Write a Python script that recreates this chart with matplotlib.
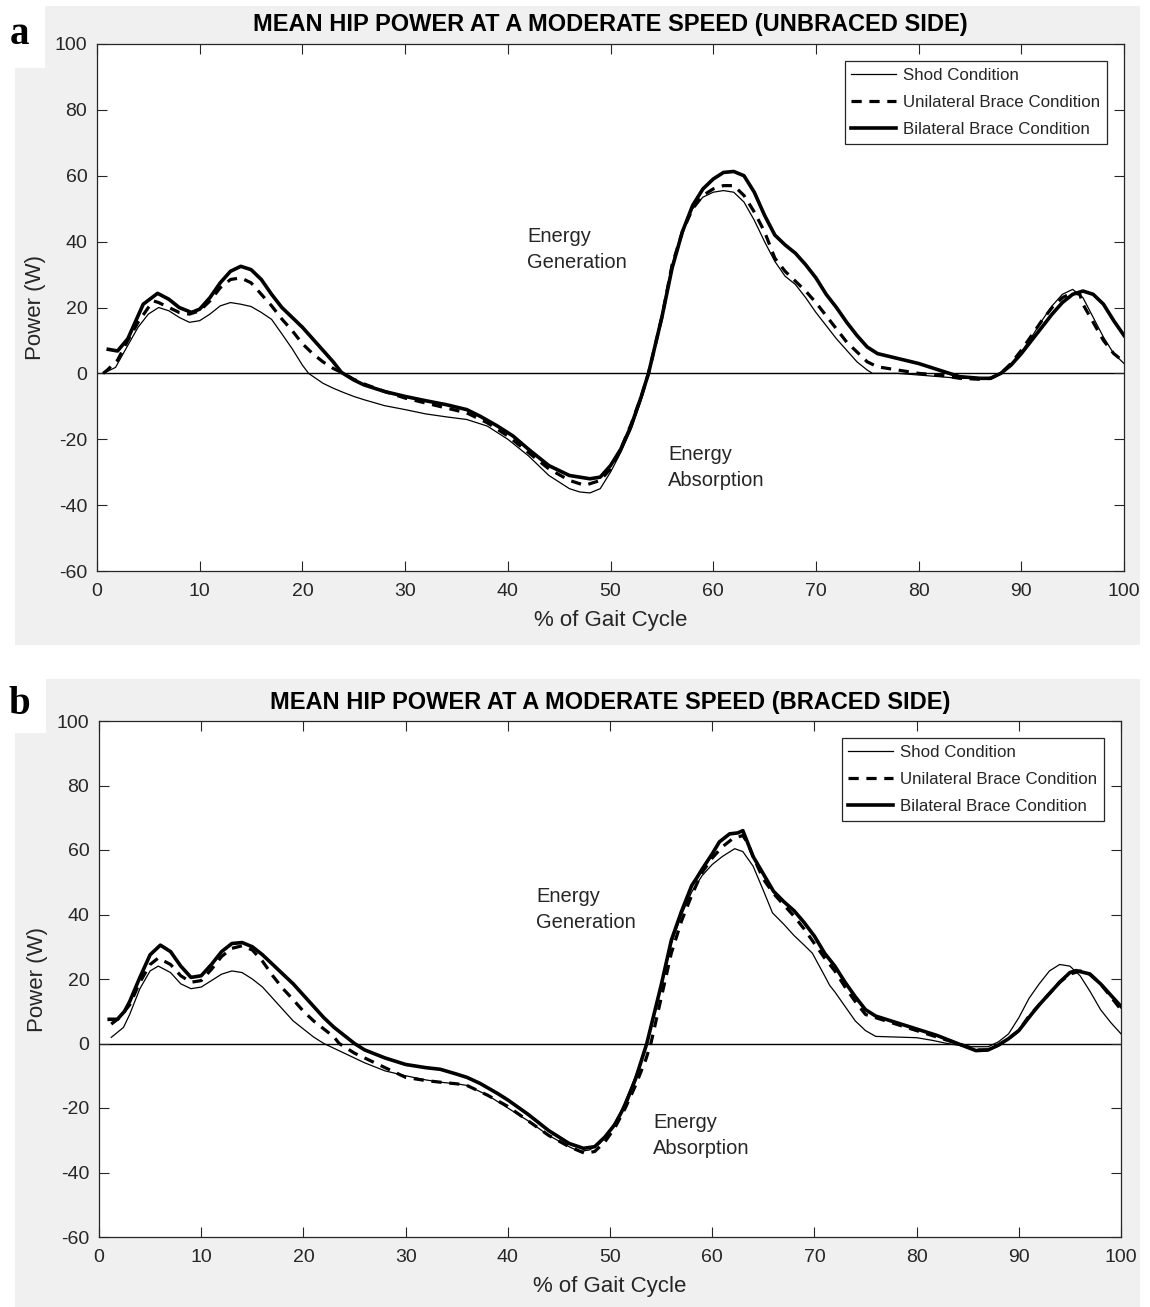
import matplotlib
matplotlib.use("Agg")
import matplotlib.pyplot as plt
from matplotlib.patches import Rectangle

plt.rcParams['font.family'] = ['Liberation Sans', 'DejaVu Sans']
plt.rcParams['axes.unicode_minus'] = False

# ---------------- Panel a: unbraced side ----------------
a_shod_x = [0.6, 1.8, 3, 4, 5, 6, 7, 8, 9, 10, 11, 12, 13, 14, 15, 16, 17, 18, 19, 20,
            20.6, 22, 23, 24, 25, 26, 28, 30, 32, 34, 36, 38, 40, 42, 44, 46, 47, 48, 49,
            50, 51, 52, 53, 53.7, 55, 56, 57, 58, 59, 60, 61, 62, 63, 64, 65, 66, 67, 68,
            69, 70, 71, 72, 73, 74, 75, 75.5, 78, 80, 82, 84, 86, 87, 88, 89, 90, 91, 92,
            93, 94, 95, 96, 97, 98, 99, 100]
a_shod_y = [0, 1.8, 8.5, 14, 18, 20, 19, 17, 15.5, 16, 18, 20.5, 21.5, 21, 20.3, 18.5, 16.4, 12, 7.5, 2.5,
            0, -3, -4.5, -5.8, -7, -8, -9.8, -11, -12.3, -13.2, -14, -16, -20, -25, -31, -35, -36, -36.3, -35,
            -30, -24, -17, -8, 0, 18, 33, 43, 50, 53.5, 55, 55.5, 55, 52, 46.5, 40, 34, 29.5, 27,
            23, 18.5, 14.5, 10.5, 7, 3.5, 1, 0, 0, -0.5, -1, -1.5, -1.5, -1.5, 0, 3, 6.5, 11, 16,
            20.5, 24, 25.5, 23, 17, 11, 6, 3]

a_uni_x = [0.6, 1, 2, 3, 4, 5, 5.5, 6, 7, 8, 9, 10, 11, 12, 13, 14, 15, 16, 17, 18, 19, 20,
           21, 22, 23, 24, 25, 26, 28, 30, 32, 34, 36, 38, 40, 42, 44, 46, 47.5, 49, 50, 51,
           52, 53, 53.7, 55, 56, 57, 58, 59, 60, 61, 62, 63, 64, 65, 66, 67, 68, 69, 70, 71,
           72, 73, 74, 75, 76, 78, 80, 82, 84, 86, 87, 88, 89, 90, 91, 92, 93, 94, 95, 95.7,
           96, 97, 98, 99, 100]
a_uni_y = [0, 1, 4, 10, 15.5, 20, 22, 21.5, 20, 18.5, 18, 19, 22, 26, 28.5, 29, 27.5, 24, 20.5, 16.5, 13, 9,
           6, 3.5, 1.5, 0, -1.8, -3.2, -5.5, -7.5, -9, -10.5, -12, -15, -19, -24, -29, -32.5, -34, -32.5, -29, -23,
           -15.5, -7, 0, 17, 33, 43, 50, 54, 56, 57, 57, 54, 49, 43, 35, 31, 28, 25, 21.5, 17.5,
           13.5, 9.5, 6.5, 3.5, 2, 1, 0, -0.5, -1.5, -1.8, -1.5, 0, 3, 7, 11.5, 16, 20, 23, 24.5, 24,
           21, 15.5, 10, 6, 3.5]

a_bi_x = [1.1, 2, 3, 3.5, 4.5, 5.9, 7, 8, 9.2, 10, 11, 12, 13, 14, 15, 16, 17, 18, 19, 20, 21,
          22, 23, 23.8, 25, 26, 28, 30, 32, 34, 36, 37.3, 39, 40.5, 42, 44, 46, 48, 49, 50, 51,
          52, 53, 53.7, 55, 56, 57, 58, 59, 60, 61, 62, 63, 64, 65, 66, 67, 68, 69, 70, 71, 72,
          73, 74, 75, 76, 78, 80, 82, 84, 86, 87, 88, 89, 90, 91, 92, 93, 94, 95, 96, 97, 98,
          99, 100]
a_bi_y = [7.3, 6.8, 10.5, 14, 21, 24.3, 22.5, 20, 18.5, 19.5, 23, 27.5, 31, 32.5, 31.5, 28.5, 24, 20, 17, 14, 10.5,
          7, 3.5, 0.3, -2, -3.5, -5.5, -7, -8.3, -9.5, -11, -13, -16, -19, -23, -28, -31, -32, -31.5, -28, -23,
          -16, -7, 0, 17, 32, 43, 51, 56, 59, 61, 61.3, 60, 55, 48, 42, 39, 36.5, 33, 29, 24, 20,
          15.5, 11.5, 8, 6, 4.5, 3, 1, -1, -1.5, -1.5, 0, 2.5, 6, 10, 14, 18, 21.5, 24, 25, 24, 21,
          16, 11.5]

# ---------------- Panel b: braced side ----------------
b_shod_x = [1.2, 2.4, 3, 4, 5, 5.8, 7, 8, 9, 10, 11, 12, 13, 14, 15, 16, 17, 18, 19, 20, 21,
            22, 23, 24, 25, 26, 28, 30, 32, 33.4, 35, 36, 38, 40, 42, 44, 46, 47, 48, 49, 50,
            51, 52, 53, 53.6, 55, 56, 57, 58, 59, 60, 61, 62.2, 63, 64, 65, 65.9, 67, 68, 69,
            69.8, 71, 71.5, 72, 73, 74, 75, 76, 78, 80, 81.5, 83, 85, 87, 88, 89, 90, 91, 92,
            93, 94, 95, 96, 97, 98, 99, 100]
b_shod_y = [1.9, 5, 9, 17, 22.5, 24, 22, 18.5, 17, 17.5, 19.5, 21.5, 22.5, 22, 20, 17.5, 14, 10.5, 7, 4.5, 2,
            0, -1.5, -3, -4.5, -6, -8.5, -10, -11.3, -12, -12.5, -13, -16, -20, -24, -28.5, -32, -33.5, -33, -31, -27,
            -21.5, -14, -6, 0, 18, 31, 40, 47, 52, 55.5, 58, 60.4, 59.5, 55, 47.5, 40.5, 37, 33.5, 30.5,
            28, 21, 18, 16, 11.5, 7, 4, 2.2, 2, 1.8, 1, 0, -1, -1, 0.5, 3, 8, 14, 18.5,
            22.5, 24.5, 24, 21, 16, 10.5, 6.5, 3]

b_uni_x = [1.2, 2, 3, 4, 5, 5.8, 7, 8, 9, 10, 11, 12, 13, 14, 15, 16, 17, 18, 18.8, 20, 21,
           22, 23, 23.5, 24, 25, 26, 28, 30, 32, 33.4, 35, 36, 38, 40, 42, 44, 46, 47.5, 48.5,
           49.5, 50.5, 51.5, 52.5, 53.5, 54, 55, 56, 57, 58, 59, 60, 61, 62, 63, 63.5, 64, 65,
           66, 67, 68, 69, 70, 71, 72, 73, 74, 75, 76, 78, 80, 82, 84, 86, 87, 88, 89, 90, 91,
           92, 93, 94, 95, 96, 97, 98, 99, 100]
b_uni_y = [6, 8, 12, 19, 24.5, 26.5, 24.5, 21, 19, 19.5, 23, 27, 29.5, 30.3, 29, 25.5, 21, 17, 14.3, 10, 7,
           4.5, 2, 0, -1, -3, -4.5, -7.5, -10.5, -11.5, -12, -12.5, -13, -16, -19.5, -24, -28.5, -32, -34, -33.5,
           -30.5, -26, -20, -13, -5, 0, 14, 28, 38, 46, 53, 57.5, 61, 63.5, 64.5, 62, 58, 51,
           46.5, 43, 39.5, 35.5, 31, 26.5, 22.5, 17.5, 13, 9, 8, 6, 4, 2, 0, -2, -2, -0.5, 1.5, 4, 8.5,
           12, 15.5, 19, 21.5, 22.5, 21.5, 18.5, 14.5, 10.5]

b_bi_x = [1.0, 1.8, 2.5, 3, 4, 5, 6, 7, 8, 9, 10, 11, 12, 13, 14, 15, 16, 17, 18, 19, 20,
          21, 22, 23, 24, 25, 26, 28, 30, 32, 33.4, 35, 36, 37.3, 39, 40, 42, 44, 46, 47.4,
          48.5, 49.5, 50.5, 51.5, 52.5, 53.6, 55, 56, 57, 58, 58.5, 59, 60, 60.7, 61.7, 62.5,
          63, 63.4, 64, 65, 66, 67, 68, 69, 70, 71, 72, 73, 74, 75, 76, 78, 80, 82, 84, 85.8,
          87, 88, 89, 90, 91.3, 92, 93, 94, 95, 95.6, 96.9, 98, 99, 100]
b_bi_y = [7.5, 7.5, 10, 13, 20.5, 27.5, 30.5, 28.5, 24, 20.5, 21, 24.5, 28.5, 31, 31.3, 30, 27.5, 24.5, 21.5, 18.5, 15,
          11.5, 8, 5, 2.5, 0, -2, -4.5, -6.5, -7.5, -8, -9.5, -10.5, -12.4, -15.5, -17.5, -22, -27, -31, -32.5,
          -32, -29, -25, -19, -11, 0, 18, 32, 41, 49, 51.4, 54, 58.8, 62.5, 65, 65.3,
          66, 62.8, 58, 52.6, 47.2, 44, 41.2, 37.5, 33.3, 28, 24, 19, 14.5, 10.5, 8.5, 6.5, 4.5, 2.5, 0, -2.2,
          -2, -0.5, 1.5, 4, 9.3, 12, 15.5, 19, 22, 22.6, 21.6, 18.5, 15, 11.5]

series_names = ['Shod Condition', 'Unilateral Brace Condition', 'Bilateral Brace Condition']
titles = ['MEAN HIP POWER AT A MODERATE SPEED (UNBRACED SIDE)',
          'MEAN HIP POWER AT A MODERATE SPEED (BRACED SIDE)']
panel_letters = ['a', 'b']
x_ticks = list(range(0, 101, 10))
y_ticks = list(range(-60, 101, 20))

W, H = 1150, 1307
fig = plt.figure(figsize=(W / 100, H / 100), dpi=100)
fig.patch.set_facecolor('white')

INK = '#262626'
GRAY = '#f0f0f0'


def fx(px):
    return px / W


def fy(py):
    return 1 - py / H


def fig_rect(x0, y0, x1, y1, color):
    fig.patches.append(Rectangle((fx(x0), fy(y1)), fx(x1) - fx(x0), fy(y0) - fy(y1),
                                 transform=fig.transFigure, facecolor=color,
                                 edgecolor='none', zorder=-10))


# grey panel backgrounds with white corners holding the panel letters
fig_rect(15, 6, 1140, 645, GRAY)
fig_rect(0, 0, 45, 68, 'white')
fig_rect(15, 679, 1140, 1307, GRAY)
fig_rect(0, 679, 46, 733, 'white')

axes_px = [(97, 44, 1124, 571), (99, 721, 1121, 1237)]
data = [
    [(a_shod_x, a_shod_y), (a_uni_x, a_uni_y), (a_bi_x, a_bi_y)],
    [(b_shod_x, b_shod_y), (b_uni_x, b_uni_y), (b_bi_x, b_bi_y)],
]
text_pos = [((41.9, 37.5), (55.6, -28.5)), ((42.8, 41.5), (54.2, -28.5))]
letter_px = [(10, 44), (8, 714)]

for i, (l, t, r, b) in enumerate(axes_px):
    ax = fig.add_axes([fx(l), fy(b), fx(r) - fx(l), fy(t) - fy(b)])
    ax.set_facecolor('white')
    (sx, sy), (ux, uy), (bx, by) = data[i]
    ax.axhline(0, color='black', lw=1.0, zorder=1)
    ax.plot(sx, sy, color='black', lw=0.9, label=series_names[0], zorder=3)
    ax.plot(ux, uy, color='black', lw=2.3, linestyle=(0, (3.2, 2.4)),
            label=series_names[1], zorder=3)
    ax.plot(bx, by, color='black', lw=2.6, label=series_names[2], zorder=3)
    ax.set_xlim(0, 100)
    ax.set_ylim(-60, 100)
    ax.set_xticks(x_ticks)
    ax.set_yticks(y_ticks)
    ax.tick_params(direction='in', top=True, right=True, length=7, width=0.8,
                   colors=INK, labelsize=14)
    ax.tick_params(axis='x', pad=9)
    ax.tick_params(axis='y', pad=7)
    for sp in ax.spines.values():
        sp.set_color(INK)
        sp.set_linewidth(0.9)
    ax.set_xlabel('% of Gait Cycle', fontsize=16, color=INK, labelpad=7)
    ax.set_ylabel('Power (W)', fontsize=16, color=INK, labelpad=6)
    ax.set_title(titles[i], fontsize=17, fontweight='bold', color='black', pad=9)

    (gx, gy), (abx, aby) = text_pos[i]
    ax.text(gx, gy, 'Energy\nGeneration', fontsize=14.5, color=INK, va='center',
            ha='left', linespacing=1.45)
    ax.text(abx, aby, 'Energy\nAbsorption', fontsize=14.5, color=INK, va='center',
            ha='left', linespacing=1.45)

    leg = ax.legend(loc='upper right', fontsize=12.2, frameon=True, fancybox=False,
                    edgecolor=INK, framealpha=1, borderaxespad=1.0, handlelength=2.6,
                    handletextpad=0.45, labelspacing=0.72, borderpad=0.4)
    leg.get_frame().set_linewidth(0.9)
    for txt in leg.get_texts():
        txt.set_color(INK)

    lx, ly = letter_px[i]
    fig.text(fx(lx), fy(ly), panel_letters[i], fontsize=28, fontweight='bold',
             family='Liberation Serif', ha='left', va='baseline', color='black')

fig.savefig('out.png', dpi=100)
